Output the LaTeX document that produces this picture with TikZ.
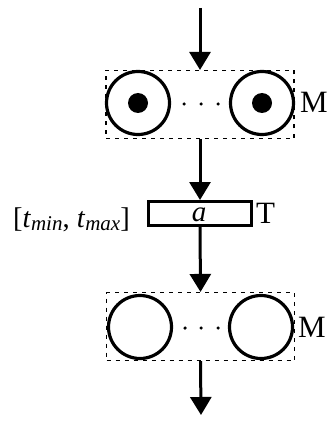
\documentclass[tikz,border=0pt]{standalone}
\usepackage{fontspec}
\setmainfont{Liberation Serif}
\usetikzlibrary{arrows.meta}
\newcommand{\subtxt}[1]{\raisebox{-0.3ex}{\fontsize{21}{21}\selectfont\itshape #1}}
\tikzset{
  place/.style={circle,draw,line width=3.2pt,minimum size=63pt,inner sep=0pt},
  token/.style={circle,fill,minimum size=20pt,inner sep=0pt},
  dotsm/.style={circle,fill,minimum size=3.5pt,inner sep=0pt},
  markbox/.style={draw,line width=1.1pt,dash pattern=on 4pt off 5pt,minimum width=188pt,minimum height=68pt,inner sep=0pt},
  trans/.style={draw,line width=3pt,minimum width=103pt,minimum height=24pt,inner sep=0pt},
  flow/.style={line width=3pt,-{Triangle[length=18pt,width=21pt]}},
  lbl/.style={font=\fontsize{31}{34}\selectfont,inner sep=0pt},
  intv/.style={font=\fontsize{28.5}{30}\selectfont,inner sep=0pt}
}
\begin{document}
\begin{tikzpicture}[x=1pt,y=-1pt]
\useasboundingbox (0,0) rectangle (327,422);
% top marking
\node[markbox] (B1) at (200,104.5) {};
\node[place] (p1) at (138,103) {};
\node[token] (k1) at (p1) {};
\node[place] (p2) at (262,103) {};
\node[token] (k2) at (p2) {};
\node[dotsm] (d1) at (184,104) {};
\node[dotsm] (d2) at (201,104) {};
\node[dotsm] (d3) at (218,104) {};
\node[lbl,anchor=base west] (M1) at (300,113) {M};
% transition
\node[trans] (t) at (200,213.5) {};
\node[anchor=base,inner sep=0pt,font=\fontsize{29}{30}\selectfont\itshape] (ta) at (199,221) {a};
\node[lbl,anchor=base west] (T) at (256,223) {T};
\node[intv,anchor=base east] (I) at (130,227) {[\textit{t}\subtxt{min}, \textit{t}\subtxt{max}]};
% bottom marking
\node[markbox] (B2) at (200.5,326.5) {};
\node[place] (q1) at (140,327) {};
\node[place] (q2) at (261,327) {};
\node[dotsm] (e1) at (185,328) {};
\node[dotsm] (e2) at (201,328) {};
\node[dotsm] (e3) at (218,328) {};
\node[lbl,anchor=base west] (M2) at (298,337) {M};
% arrows
\coordinate (s) at (200,8);
\coordinate (e) at (201,415);
\draw[flow] (s) -- (B1.north);
\draw[flow] (B1.south) -- (t.north);
\draw[flow] (t.south) -- (B2.north);
\draw[flow] (B2.south) -- (e);
\end{tikzpicture}
\end{document}
